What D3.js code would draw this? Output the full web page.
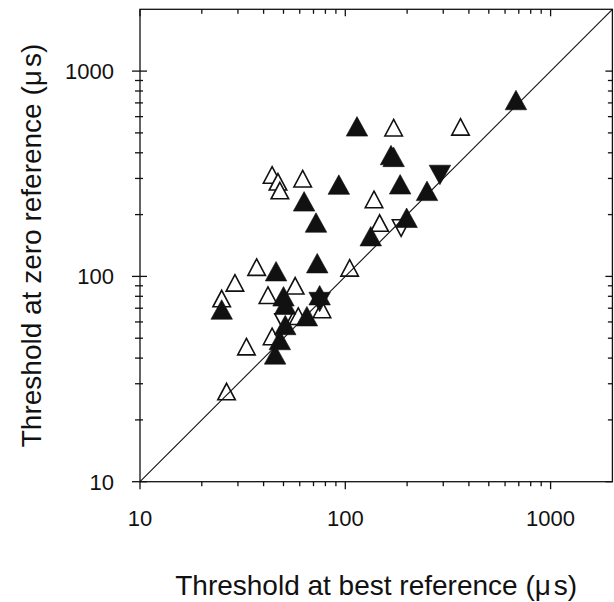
<!DOCTYPE html>
<html>
<head>
<meta charset="utf-8">
<script src="https://cdn.jsdelivr.net/npm/d3@7"></script>
<style>
  html, body { margin: 0; padding: 0; background: #fff; }
  svg text { font-family: "Liberation Sans", Arial, Helvetica, sans-serif; fill: #111; }
</style>
</head>
<body>
<svg id="chart" width="614" height="602"></svg>
<script>
// Thresholds (µs): x = best reference, y = zero reference
const openUpX   = [44, 47, 48, 62, 172, 364, 138, 147, 105, 37, 29, 25, 42, 57, 77, 59, 44, 33, 26.4];
const openUpY   = [312, 289, 262, 299, 530, 535, 237, 182, 110, 111, 93, 78, 81, 90, 69, 64, 51, 45.5, 27.5];
const filledUpX = [114, 93, 63, 72, 167, 172, 185, 250, 199, 133, 678, 73, 46, 25, 50, 51, 75, 65, 51, 48, 45.5];
const filledUpY = [538, 280, 232, 183, 390, 382, 281, 261, 193, 157, 723, 116, 106, 69, 80, 73, 81, 64, 58, 49, 41.7];
const openDownX   = [187, 50];
const openDownY   = [172, 60];
const filledDownX = [289, 75];
const filledDownY = [312, 75];

const majorTicks = [10, 100, 1000];
const minorTicks = [20, 30, 40, 50, 60, 70, 80, 90, 200, 300, 400, 500, 600, 700, 800, 900];
const tickLabels = ["10", "100", "1000"];
const axisDomain = [10, 2000];

const svg = d3.select("#chart");
const plotL = 140, plotR = 612.4, plotT = 9.3, plotB = 481.7;

const x = d3.scaleLog().domain(axisDomain).range([plotL, plotR]);
const y = d3.scaleLog().domain(axisDomain).range([plotB, plotT]);

// frame
const frame = svg.append("g").attr("stroke", "#111").attr("stroke-width", 1.3).attr("fill", "none");
frame.append("rect").attr("x", plotL).attr("y", plotT).attr("width", plotR - plotL).attr("height", plotB - plotT);

// ticks
const tickG = svg.append("g").attr("stroke", "#111").attr("stroke-width", 1.3);
majorTicks.forEach(v => {
  tickG.append("line").attr("x1", x(v)).attr("x2", x(v)).attr("y1", plotB).attr("y2", plotB + 7.5);
  tickG.append("line").attr("x1", x(v)).attr("x2", x(v)).attr("y1", plotT).attr("y2", plotT + 7);
  tickG.append("line").attr("y1", y(v)).attr("y2", y(v)).attr("x1", plotL - 8).attr("x2", plotL + 7);
  tickG.append("line").attr("y1", y(v)).attr("y2", y(v)).attr("x1", plotR).attr("x2", plotR - 7);
});
minorTicks.forEach(v => {
  tickG.append("line").attr("x1", x(v)).attr("x2", x(v)).attr("y1", plotB).attr("y2", plotB + 4.5);
  tickG.append("line").attr("x1", x(v)).attr("x2", x(v)).attr("y1", plotT).attr("y2", plotT + 4.5);
  tickG.append("line").attr("y1", y(v)).attr("y2", y(v)).attr("x1", plotL - 5).attr("x2", plotL + 3);
  tickG.append("line").attr("y1", y(v)).attr("y2", y(v)).attr("x1", plotR).attr("x2", plotR - 4.5);
});

// tick labels
majorTicks.forEach((v, i) => {
  svg.append("text").attr("x", x(v)).attr("y", 526).attr("text-anchor", "middle")
    .attr("font-size", 22).text(tickLabels[i]);
  svg.append("text").attr("x", 114).attr("y", y(v) + 8).attr("text-anchor", "end")
    .attr("font-size", 22).text(tickLabels[i]);
});

// axis titles
const xt = svg.append("text").attr("x", (plotL + plotR) / 2).attr("y", 595)
  .attr("text-anchor", "middle").attr("font-size", 28);
xt.append("tspan").text("Threshold at best reference (μ");
xt.append("tspan").attr("dx", 3).text("s)");

const yt = svg.append("text").attr("transform", `translate(41,${(plotT + plotB) / 2}) rotate(-90)`)
  .attr("text-anchor", "middle").attr("font-size", 28);
yt.append("tspan").text("Threshold at zero reference (μ");
yt.append("tspan").attr("dx", 3).text("s)");

// triangle marker paths centred on the bounding box
function triUp(w, h) {
  return `M0,${-h / 2}L${w / 2},${h / 2}L${-w / 2},${h / 2}Z`;
}
function triDown(w, h) {
  return `M0,${h / 2}L${w / 2},${-h / 2}L${-w / 2},${-h / 2}Z`;
}
const zip = (xs, ys) => xs.map((v, i) => [v, ys[i]]);

const marks = svg.append("g");
marks.selectAll(".ou").data(zip(openUpX, openUpY)).join("path")
  .attr("d", triUp(17.5, 16.5))
  .attr("transform", d => `translate(${x(d[0])},${y(d[1])})`)
  .attr("fill", "#fff").attr("stroke", "#111").attr("stroke-width", 1.6).attr("stroke-linejoin", "miter");
marks.selectAll(".od").data(zip(openDownX, openDownY)).join("path")
  .attr("d", triDown(17.5, 16.5))
  .attr("transform", d => `translate(${x(d[0])},${y(d[1])})`)
  .attr("fill", "#fff").attr("stroke", "#111").attr("stroke-width", 1.6);
marks.selectAll(".fu").data(zip(filledUpX, filledUpY)).join("path")
  .attr("d", triUp(21.5, 19.5))
  .attr("transform", d => `translate(${x(d[0])},${y(d[1])})`)
  .attr("fill", "#111").attr("stroke", "#111").attr("stroke-width", 0.6);
marks.selectAll(".fd").data(zip(filledDownX, filledDownY)).join("path")
  .attr("d", triDown(21.5, 19.5))
  .attr("transform", d => `translate(${x(d[0])},${y(d[1])})`)
  .attr("fill", "#111").attr("stroke", "#111").attr("stroke-width", 0.6);

// line of equality
svg.append("line")
  .attr("x1", x(axisDomain[0])).attr("y1", y(axisDomain[0]))
  .attr("x2", x(axisDomain[1])).attr("y2", y(axisDomain[1]))
  .attr("stroke", "#111").attr("stroke-width", 1.1);
</script>
</body>
</html>
